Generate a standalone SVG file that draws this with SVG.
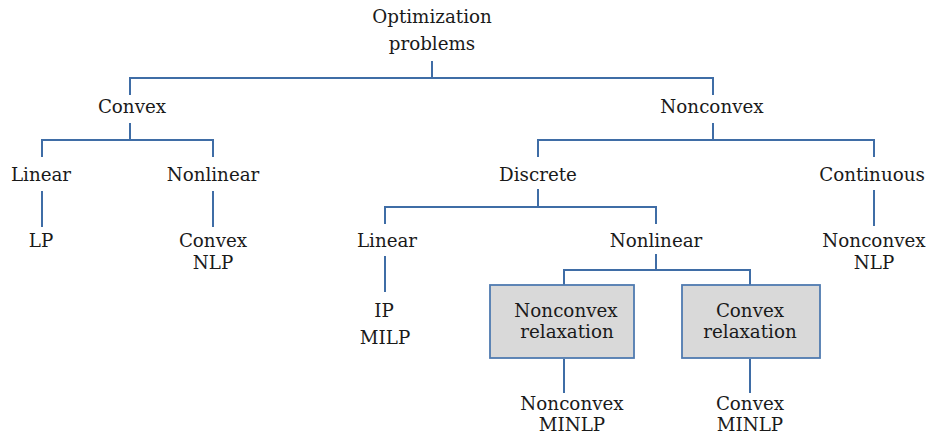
<svg xmlns="http://www.w3.org/2000/svg" width="927" height="437" viewBox="0 0 927 437">
<style>
text{font-family:"DejaVu Serif","Liberation Serif",serif;font-size:18.3px;fill:#1a1a1a;text-anchor:middle}
.c{fill:none;stroke:#3f6da6;stroke-width:2}
.b{fill:#d9d9d9;stroke:#4f7ab0;stroke-width:1.8}
</style>
<rect width="927" height="437" fill="#fff"/>
<g id="connectors" class="c">
<path d="M432 61V78M130 95V78H713V95"/>
<path d="M130 123V140M42 157V140H213V157"/>
<path d="M42 191V227M213 191V227"/>
<path d="M713 123V140M538 157V140H874V157"/>
<path d="M538 189V207M385 224V207H656V224"/>
<path d="M874 190V226"/>
<path d="M385 256V292"/>
<path d="M656 254V270M564 286V270H750V286"/>
<path d="M564 359V393M750 359V393"/>
</g>
<g id="root"><text x="432" y="23">Optimization</text><text x="432" y="50">problems</text></g>
<g id="convex"><text x="132" y="113">Convex</text></g>
<g id="nonconvex"><text x="712" y="113">Nonconvex</text></g>
<g id="linear1"><text x="41" y="181">Linear</text></g>
<g id="nonlinear1"><text x="213" y="181">Nonlinear</text></g>
<g id="lp"><text x="41" y="247">LP</text></g>
<g id="cnlp"><text x="213" y="247">Convex</text><text x="213" y="269">NLP</text></g>
<g id="discrete"><text x="538" y="181">Discrete</text></g>
<g id="continuous"><text x="872" y="181">Continuous</text></g>
<g id="linear2"><text x="387" y="247">Linear</text></g>
<g id="nonlinear2"><text x="656" y="247">Nonlinear</text></g>
<g id="ncnlp"><text x="874" y="247">Nonconvex</text><text x="874" y="269">NLP</text></g>
<g id="ipmilp"><text x="384" y="317">IP</text><text x="385" y="344">MILP</text></g>
<g id="ncrelax"><rect class="b" x="490" y="285" width="144" height="73"/><text x="566" y="317">Nonconvex</text><text x="567" y="338">relaxation</text></g>
<g id="crelax"><rect class="b" x="682" y="285" width="138" height="73"/><text x="750" y="317">Convex</text><text x="750" y="338">relaxation</text></g>
<g id="ncminlp"><text x="572" y="410">Nonconvex</text><text x="572" y="431">MINLP</text></g>
<g id="cminlp"><text x="750" y="410">Convex</text><text x="750" y="431">MINLP</text></g>
</svg>
